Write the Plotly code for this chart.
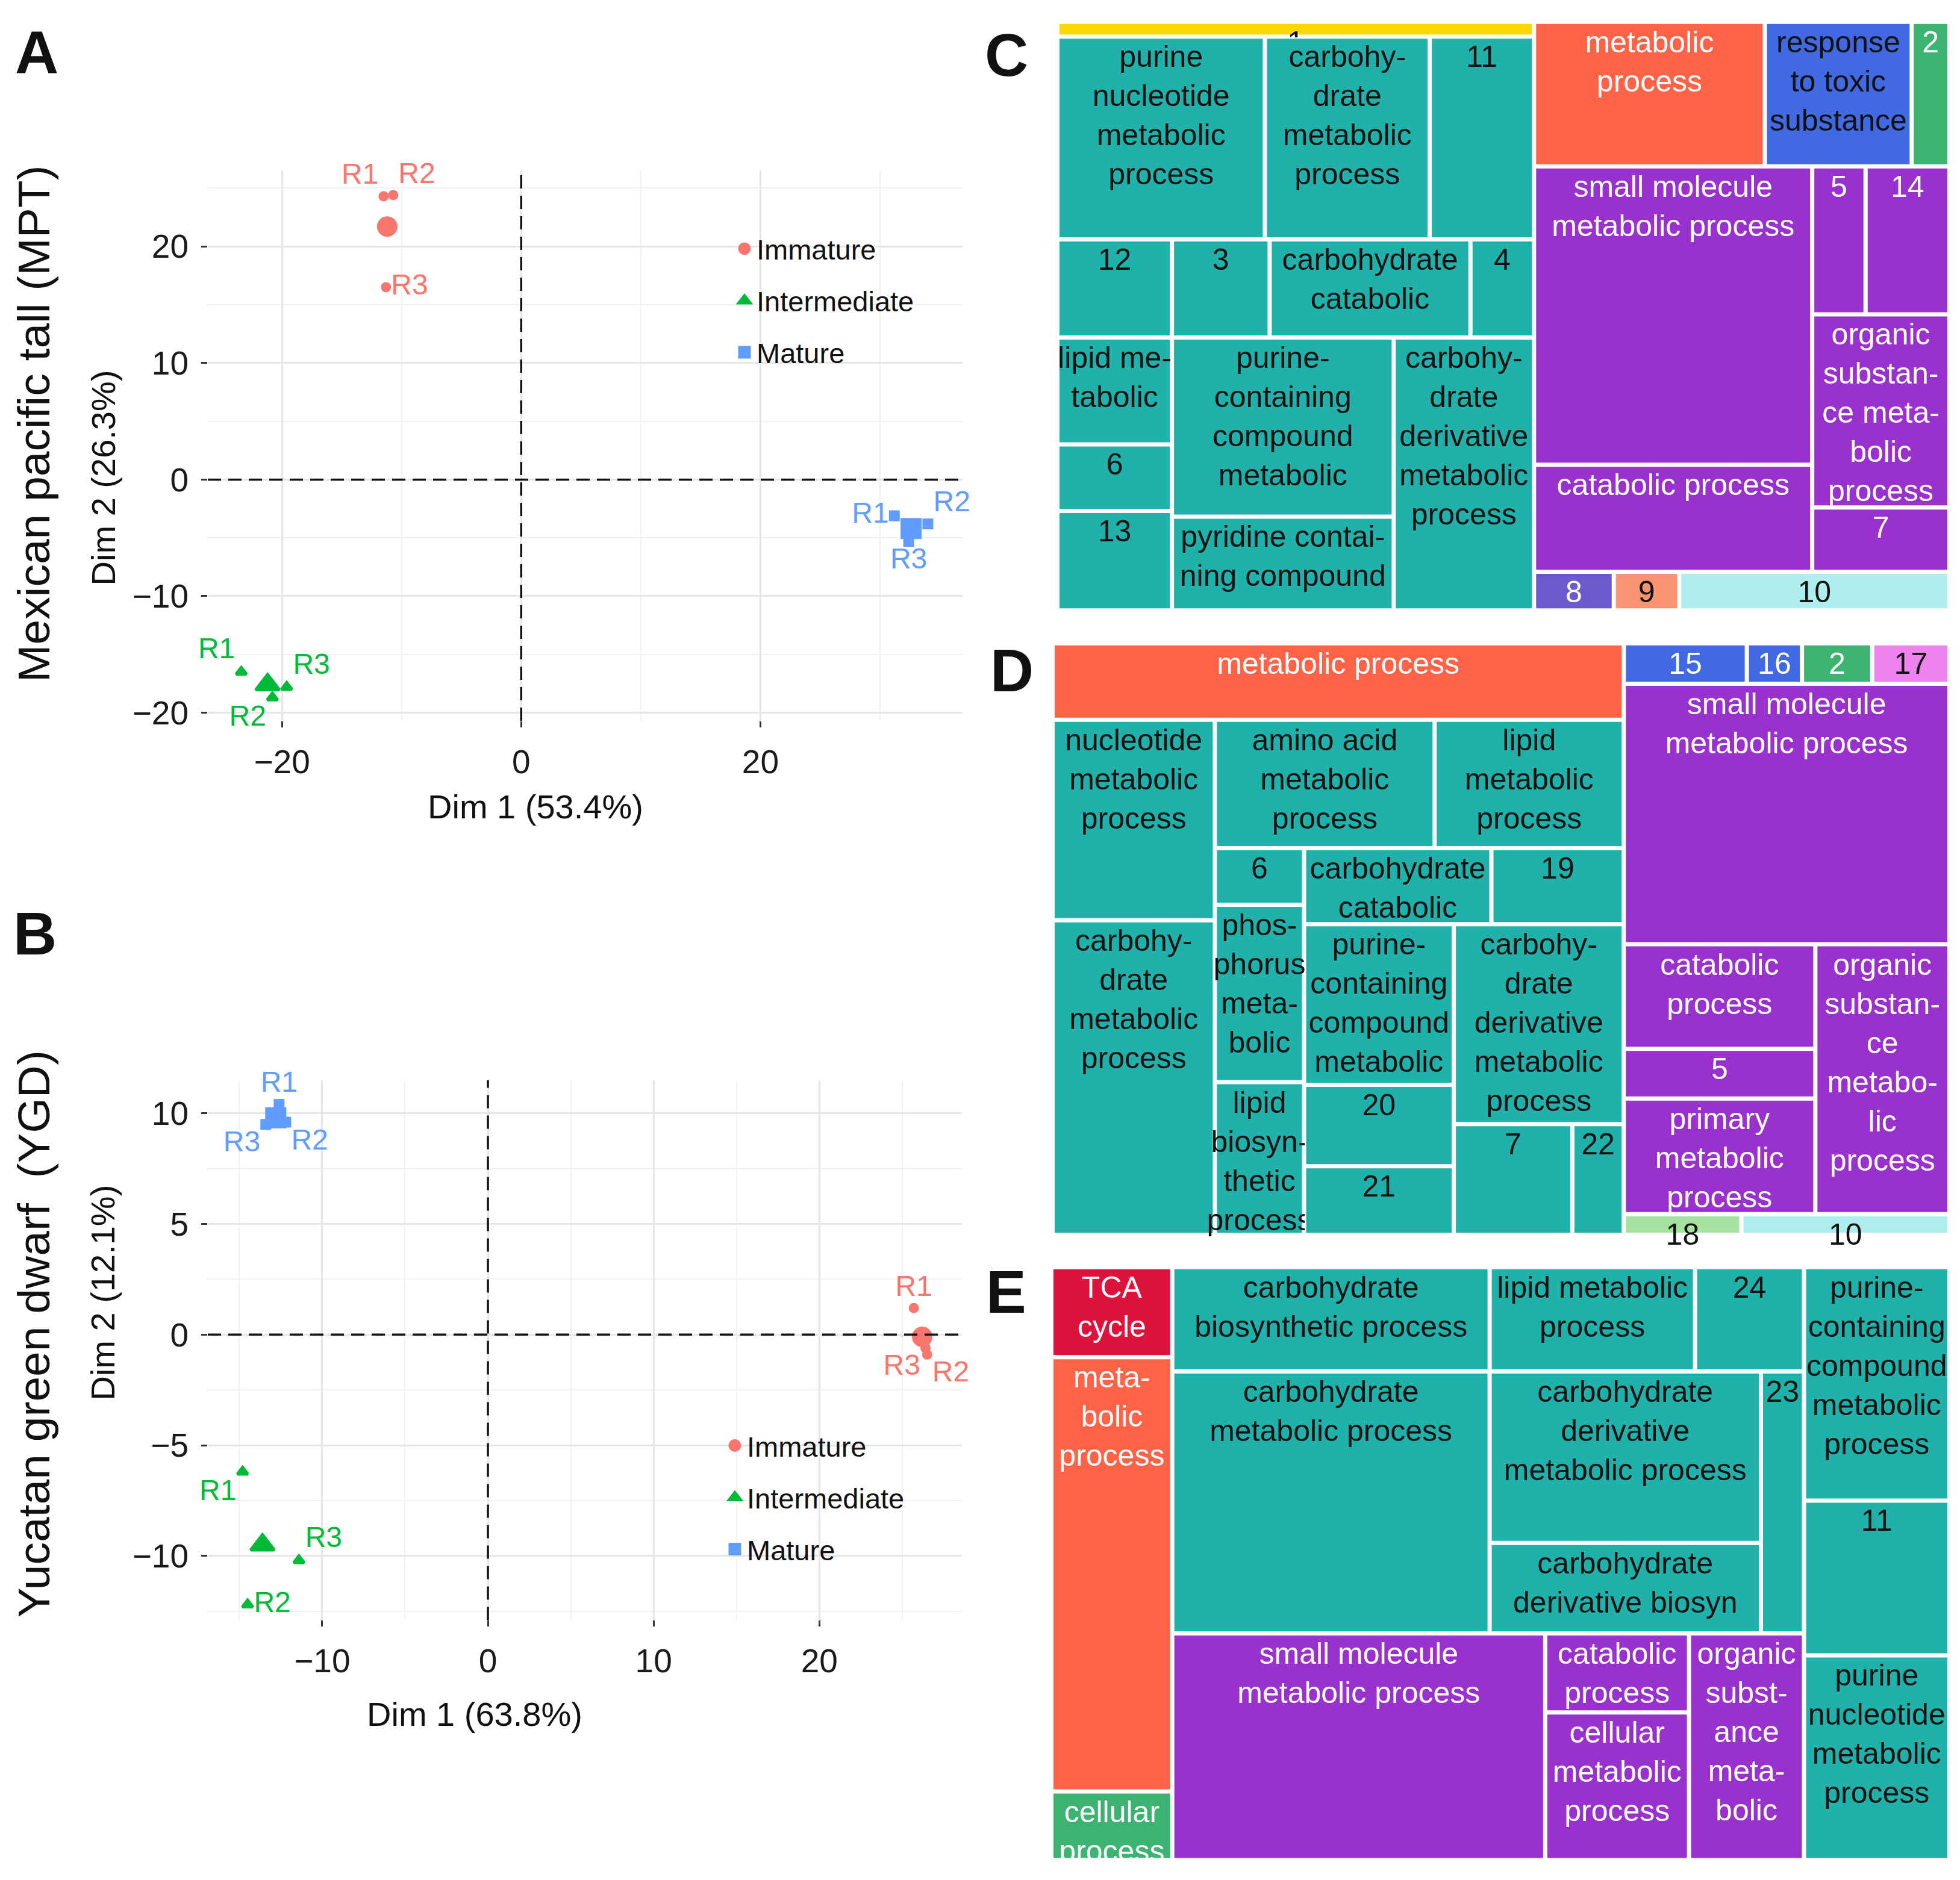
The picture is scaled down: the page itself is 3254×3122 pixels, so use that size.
import plotly.graph_objects as go

W, H = 3254, 3122

# ---------------------------------------------------------------- PCA panels (A, B)
groups = ["Immature", "Intermediate", "Mature"]
rep_labels = ["R1", "R2", "R3"]

# Panel A - Mexican pacific tall: replicate scores (R1, R2, R3) and centroid
mpt_imm_dim1 = [-11.5, -10.7, -11.3]
mpt_imm_dim2 = [24.3, 24.4, 16.5]
mpt_int_dim1 = [-23.4, -20.8, -19.6]
mpt_int_dim2 = [-16.5, -18.7, -17.8]
mpt_mat_dim1 = [31.2, 34.0, 32.4]
mpt_mat_dim2 = [-3.1, -3.8, -5.3]
mpt_centroid_dim1 = [-11.2, -21.2, 32.6]
mpt_centroid_dim2 = [21.7, -17.6, -4.2]

# Panel B - Yucatan green dwarf
ygd_imm_dim1 = [25.7, 26.5, 26.4]
ygd_imm_dim2 = [1.2, -0.9, -0.6]
ygd_int_dim1 = [-14.8, -14.5, -11.4]
ygd_int_dim2 = [-6.2, -12.2, -10.2]
ygd_mat_dim1 = [-12.6, -12.2, -13.4]
ygd_mat_dim2 = [10.4, 9.6, 9.5]
ygd_centroid_dim1 = [26.2, -13.6, -12.8]
ygd_centroid_dim2 = [-0.1, -9.5, 9.8]

# ---------------------------------------------------------------- treemap C
C_ids = ["C", "C.L", "C.1", "C.r1", "C.pnm", "C.cm", "C.11", "C.r2", "C.12", "C.3", "C.cc", "C.4",
         "C.r3", "C.r3a", "C.lm", "C.6", "C.13", "C.r3b", "C.pcc", "C.pyr", "C.cdm",
         "C.R", "C.t", "C.mp", "C.rts", "C.2", "C.p", "C.pl", "C.smm", "C.cp", "C.pr", "C.prt",
         "C.5", "C.14", "C.osm", "C.7", "C.b", "C.8", "C.9", "C.10"]
C_parents = ["", "C", "C.L", "C.L", "C.r1", "C.r1", "C.r1", "C.L", "C.r2", "C.r2", "C.r2", "C.r2",
             "C.L", "C.r3", "C.r3a", "C.r3a", "C.r3a", "C.r3", "C.r3b", "C.r3b", "C.r3",
             "C", "C.R", "C.t", "C.t", "C.t", "C.R", "C.p", "C.pl", "C.pl", "C.p", "C.pr",
             "C.prt", "C.prt", "C.pr", "C.pr", "C.R", "C.b", "C.b", "C.b"]
C_labels = ["", "", "1", "", "purine<br>nucleotide<br>metabolic<br>process",
            "carbohy-<br>drate<br>metabolic<br>process", "11", "", "12", "3",
            "carbohydrate<br>catabolic", "4", "", "", "lipid me-<br>tabolic", "6", "13", "",
            "purine-<br>containing<br>compound<br>metabolic", "pyridine contai-<br>ning compound",
            "carbohy-<br>drate<br>derivative<br>metabolic<br>process",
            "", "", "metabolic<br>process", "response<br>to toxic<br>substance", "2", "", "",
            "small molecule<br>metabolic process", "catabolic process", "", "", "5", "14",
            "organic<br>substan-<br>ce meta-<br>bolic<br>process", "7", "", "8", "9", "10"]
C_sizes = [0, 0, 29.4, 0, 175.8, 139.7, 88.4, 0, 47.0, 40.1, 82.4, 26.1,
           0, 0, 51.2, 31.9, 47.6, 0, 166.1, 87.0, 160.1,
           0, 0, 139.4, 88.7, 22.8, 0, 0, 347.1, 124.4, 0, 0,
           33.0, 51.9, 110.8, 36.9, 0, 12.9, 10.6, 43.7]
C_groups = ["bg", "bg", "yellow", "bg", "teal", "teal", "teal", "bg", "teal", "teal", "teal", "teal",
            "bg", "bg", "teal", "teal", "teal", "bg", "teal", "teal", "teal",
            "bg", "bg", "orange", "royal_k", "green", "bg", "bg", "purple", "purple", "bg", "bg",
            "purple", "purple", "purple", "purple", "bg", "slate", "salmon", "paleturq"]

# ---------------------------------------------------------------- treemap D
D_ids = ["D", "D.L", "D.mp", "D.T", "D.c1", "D.nm", "D.cm", "D.rest", "D.rt", "D.aa", "D.lm",
         "D.rb", "D.cp", "D.6", "D.ph", "D.lb", "D.cq", "D.qt", "D.cc", "D.19", "D.qb", "D.qb1",
         "D.pcc", "D.20", "D.21", "D.qb2", "D.cdm", "D.qb2b", "D.7", "D.22",
         "D.R", "D.t", "D.15", "D.16", "D.2", "D.17", "D.smm", "D.pb", "D.pbl", "D.cat", "D.5",
         "D.pm", "D.osm", "D.b", "D.18", "D.10"]
D_parents = ["", "D", "D.L", "D.L", "D.T", "D.c1", "D.c1", "D.T", "D.rest", "D.rt", "D.rt",
             "D.rest", "D.rb", "D.cp", "D.cp", "D.cp", "D.rb", "D.cq", "D.qt", "D.qt", "D.cq", "D.qb",
             "D.qb1", "D.qb1", "D.qb1", "D.qb", "D.qb2", "D.qb2", "D.qb2b", "D.qb2b",
             "D", "D.R", "D.t", "D.t", "D.t", "D.t", "D.R", "D.R", "D.pb", "D.pbl", "D.pbl",
             "D.pbl", "D.pb", "D.R", "D.b", "D.b"]
D_labels = ["", "", "metabolic process", "", "", "nucleotide<br>metabolic<br>process",
            "carbohy-<br>drate<br>metabolic<br>process", "", "", "amino acid<br>metabolic<br>process",
            "lipid<br>metabolic<br>process", "", "", "6", "phos-<br>phorus<br>meta-<br>bolic",
            "lipid<br>biosyn-<br>thetic<br>process", "", "", "carbohydrate<br>catabolic", "19", "", "",
            "purine-<br>containing<br>compound<br>metabolic", "20", "21", "",
            "carbohy-<br>drate<br>derivative<br>metabolic<br>process", "", "7", "22",
            "", "", "15", "16", "2", "17", "small molecule<br>metabolic process", "", "",
            "catabolic<br>process", "5", "primary<br>metabolic<br>process",
            "organic<br>substan-<br>ce<br>metabo-<br>lic<br>process", "", "18", "10"]
D_sizes = [0, 0, 186.0, 0, 0, 138.8, 217.6, 0, 0, 120.4, 103.6,
           0, 0, 21.5, 67.5, 58.1, 0, 0, 60.7, 42.9, 0, 0,
           102.5, 52.0, 43.8, 0, 144.8, 0, 56.0, 24.3,
           0, 0, 21.2, 9.5, 12.1, 13.3, 361.8, 0, 0, 85.4, 40.6,
           94.4, 154.3, 0, 10.4, 18.4]
D_groups = ["bg", "bg", "orange", "bg", "bg", "teal", "teal", "bg", "bg", "teal", "teal",
            "bg", "bg", "teal", "teal", "teal", "bg", "bg", "teal", "teal", "bg", "bg",
            "teal", "teal", "teal", "bg", "teal", "bg", "teal", "teal",
            "bg", "bg", "royal", "royal", "green", "violet", "purple", "bg", "bg", "purple", "purple",
            "purple", "purple", "bg", "palegreen", "paleturq"]

# ---------------------------------------------------------------- treemap E
E_ids = ["E", "E.1", "E.tca", "E.mp", "E.cp", "E.2", "E.r1", "E.cbp", "E.lm", "E.24",
         "E.r2", "E.cm", "E.r2m", "E.cdm", "E.cdb", "E.23", "E.r3", "E.smm", "E.r3m", "E.cat",
         "E.cmp", "E.osm", "E.3", "E.pcc", "E.11", "E.pnm"]
E_parents = ["", "E", "E.1", "E.1", "E.1", "E", "E.2", "E.r1", "E.r1", "E.r1",
             "E.2", "E.r2", "E.r2", "E.r2m", "E.r2m", "E.r2", "E.2", "E.r3", "E.r3", "E.r3m",
             "E.r3m", "E.r3", "E", "E.3", "E.3", "E.3"]
E_labels = ["", "", "TCA<br>cycle", "meta-<br>bolic<br>process", "cellular<br>process", "", "",
            "carbohydrate<br>biosynthetic process", "lipid metabolic<br>process", "24",
            "", "carbohydrate<br>metabolic process", "",
            "carbohydrate<br>derivative<br>metabolic process", "carbohydrate<br>derivative biosyn",
            "23", "", "small molecule<br>metabolic process", "", "catabolic<br>process",
            "cellular<br>metabolic<br>process", "organic<br>subst-<br>ance<br>meta-<br>bolic", "",
            "purine-<br>containing<br>compound<br>metabolic<br>process", "11",
            "purine<br>nucleotide<br>metabolic<br>process"]
E_sizes = [0, 0, 44.6, 215.3, 33.9, 0, 0, 135.7, 87.8, 46.6,
           0, 340.8, 0, 190.7, 100.6, 46.3, 0, 346.4, 0, 46.6,
           86.9, 106.8, 0, 139.2, 92.3, 122.0]
E_groups = ["bg", "bg", "crimson", "orange", "green", "bg", "bg", "teal", "teal", "teal",
            "bg", "teal", "bg", "teal", "teal", "teal", "bg", "purple", "bg", "purple",
            "purple", "purple", "bg", "teal", "teal", "teal"]

# ---------------------------------------------------------------- styles
pca_colors = ["#F8766D", "#00BA38", "#619CFF"]
pca_symbols = ["circle", "triangle-up", "square"]
rep_marker_size = [12, 15, 13]
centroid_marker_size = [29, 34, 30]
mpt_label_pos = [["top left", "top right", "middle right"],
                 ["top left", "bottom left", "top right"],
                 ["middle left", "top right", "bottom center"]]
ygd_label_pos = [["top center", "bottom right", "bottom left"],
                 ["bottom left", "middle right", "top right"],
                 ["top center", "bottom right", "bottom left"]]

tm_fill = {"bg": "#FFFFFF", "teal": "#20B2AA", "purple": "#9932CC", "orange": "#FF6347",
           "yellow": "#FFD700", "royal": "#4169E1", "royal_k": "#4169E1", "green": "#3CB371",
           "slate": "#6A5ACD", "salmon": "#FA9372", "paleturq": "#AFEEEE", "violet": "#EE82EE",
           "palegreen": "#A6E3A0", "crimson": "#DC143C"}
tm_light_text = {"purple", "orange", "royal", "green", "slate", "crimson"}

SANS = "Liberation Sans, Arial, Helvetica, sans-serif"
TM_FONT = "Liberation Sans, Arial, Helvetica, sans-serif"
TM_SIZE = 50


def dom_x(a, b):
    return [a / W, b / W]


def dom_y(top, bottom):
    return [1 - bottom / H, 1 - top / H]


fig = go.Figure()

pca_sets = [
    ("x", "y", "legend", [mpt_imm_dim1, mpt_int_dim1, mpt_mat_dim1],
     [mpt_imm_dim2, mpt_int_dim2, mpt_mat_dim2], mpt_centroid_dim1, mpt_centroid_dim2, mpt_label_pos),
    ("x2", "y2", "legend2", [ygd_imm_dim1, ygd_int_dim1, ygd_mat_dim1],
     [ygd_imm_dim2, ygd_int_dim2, ygd_mat_dim2], ygd_centroid_dim1, ygd_centroid_dim2, ygd_label_pos),
]
for xa, ya, leg, xs, ys, cx, cy, lpos in pca_sets:
    for i, g in enumerate(groups):
        fig.add_trace(go.Scatter(
            x=xs[i] + [cx[i]], y=ys[i] + [cy[i]],
            mode="markers+text", text=rep_labels + [""],
            textposition=lpos[i] + ["middle center"],
            textfont=dict(family=SANS, size=48, color=pca_colors[i]),
            marker=dict(symbol=pca_symbols[i], color=pca_colors[i], opacity=1,
                        size=[rep_marker_size[i]] * 3 + [centroid_marker_size[i]],
                        line=dict(color=pca_colors[i], width=5)),
            name=g, legend=leg, legendgroup=leg + g, xaxis=xa, yaxis=ya,
            cliponaxis=False, hoverinfo="skip"))


def add_treemap(ids, parents, labels, sizes, grps, dx, dy):
    fig.add_trace(go.Treemap(
        ids=ids, labels=ids, parents=parents, values=sizes, branchvalues="remainder",
        sort=False, text=labels, texttemplate="%{text}", textposition="top center",
        marker=dict(colors=[tm_fill[g] for g in grps], line=dict(color="white", width=2),
                    pad=dict(t=0, l=0, r=0, b=0), depthfade=False),
        textfont=dict(family=TM_FONT, size=TM_SIZE,
                      color=["#FFFFFF" if g in tm_light_text else "#111111" for g in grps]),
        tiling=dict(packing="slice-dice", pad=5),
        pathbar=dict(visible=False), root=dict(color="white"),
        hoverinfo="skip", domain=dict(x=dx, y=dy)))


add_treemap(C_ids, C_parents, C_labels, C_sizes, C_groups, dom_x(1750, 3226), dom_y(31, 1009))
add_treemap(D_ids, D_parents, D_labels, D_sizes, D_groups, dom_x(1742, 3226), dom_y(1069, 2052))
add_treemap(E_ids, E_parents, E_labels, E_sizes, E_groups, dom_x(1740, 3226), dom_y(2111, 3096))

grid_major = "#E6E6E6"
grid_minor = "#F1F1F1"


def axis_style(domain, rng, dtick, minor_dtick, anchor):
    return dict(domain=domain, range=rng, anchor=anchor, tickmode="linear", tick0=0, dtick=dtick,
                showgrid=True, gridcolor=grid_major, gridwidth=2.5,
                minor=dict(showgrid=True, tick0=0, dtick=minor_dtick, gridcolor=grid_minor, gridwidth=1.5),
                ticks="outside", ticklen=10, tickwidth=2.5, tickcolor="#333333",
                ticklabelstandoff=10,
                tickfont=dict(family=SANS, size=55, color="#1A1A1A"),
                zeroline=False, showline=False, fixedrange=True)


layout_axes = dict(
    xaxis=axis_style(dom_x(337, 1590), [-26.2, 36.9], 20, 10, "y"),
    yaxis=axis_style(dom_y(277, 1196), [-20.7, 26.5], 10, 5, "x"),
    xaxis2=axis_style(dom_x(337, 1589), [-16.9, 28.6], 10, 5, "y2"),
    yaxis2=axis_style(dom_y(1796, 2698), [-12.9, 11.5], 5, 2.5, "x2"),
)

dash = "22px,12px"
ref_line = dict(color="#111111", width=3.5, dash=dash)
shapes = [
    dict(type="line", xref="x", yref="y domain", x0=0, x1=0, y0=0, y1=1, layer="above", line=ref_line),
    dict(type="line", xref="x domain", yref="y", x0=0, x1=1, y0=0, y1=0, layer="above", line=ref_line),
    dict(type="line", xref="x2", yref="y2 domain", x0=0, x1=0, y0=0, y1=1, layer="above", line=ref_line),
    dict(type="line", xref="x2 domain", yref="y2", x0=0, x1=1, y0=0, y1=0, layer="above", line=ref_line),
]


def ann(text, xp, yp, size, angle=0, bold=False):
    return dict(text=("<b>%s</b>" % text) if bold else text, x=xp / W, y=1 - yp / H,
                xref="paper", yref="paper", xanchor="center", yanchor="middle",
                textangle=angle, showarrow=False,
                font=dict(family=SANS, size=size, color="#111111"))


annotations = [
    ann("A", 53, 79, 100, bold=True),
    ann("B", 50, 1551, 100, bold=True),
    ann("C", 1663, 83, 100, bold=True),
    ann("D", 1672, 1111, 100, bold=True),
    ann("E", 1662, 2149, 100, bold=True),
    ann("Mexican pacific tall (MPT)", 48, 700, 75, angle=-90),
    ann("Yucatan green dwarf\u00a0 (YGD)", 48, 2220, 75, angle=-90),
    ann("Dim 2 (26.3%)", 163, 790, 56, angle=-90),
    ann("Dim 1 (53.4%)", 881, 1339, 56),
    ann("Dim 2 (12.1%)", 163, 2151, 56, angle=-90),
    ann("Dim 1 (63.8%)", 780, 2855, 56),
]

legend_common = dict(xanchor="left", yanchor="top", bgcolor="rgba(0,0,0,0)",
                     font=dict(family=SANS, size=47, color="#111111"),
                     tracegroupgap=22, traceorder="grouped")

fig.update_layout(
    width=W, height=H, autosize=False,
    margin=dict(l=0, r=0, t=0, b=0),
    paper_bgcolor="white", plot_bgcolor="white",
    showlegend=True,
    legend=dict(x=1208 / W, y=1 - 370 / H, **legend_common),
    legend2=dict(x=1192 / W, y=1 - 2369 / H, **legend_common),
    uniformtext=dict(minsize=TM_SIZE, mode="show"),
    shapes=shapes, annotations=annotations,
    **layout_axes,
)

fig.write_html("out.html")
